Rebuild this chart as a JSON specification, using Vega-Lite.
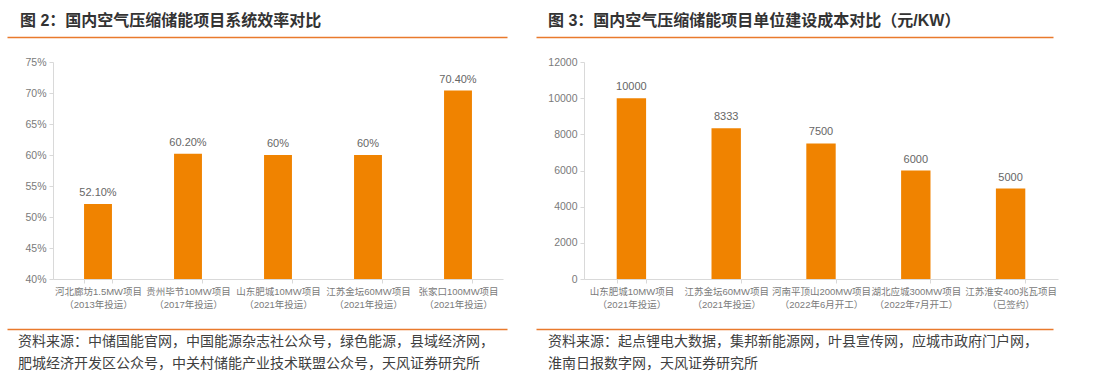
{
  "$schema": "https://vega.github.io/schema/vega-lite/v6.json",
  "padding": {"left": 7, "top": 12, "right": 10, "bottom": 5},
  "background": "white",
  "config": {
    "view": {"stroke": null},
    "font": "'Liberation Sans','Noto Sans CJK SC',sans-serif",
    "axis": {"labelFont": "'Liberation Sans','Noto Sans CJK SC',sans-serif"}
  },
  "datasets": {
    "eff": [
      {"name": "河北廊坊1.5MW项目|（2013年投运）", "value": 52.1, "label": "52.10%"},
      {"name": "贵州毕节10MW项目|（2017年投运）", "value": 60.2, "label": "60.20%"},
      {"name": "山东肥城10MW项目|（2021年投运）", "value": 60, "label": "60%"},
      {"name": "江苏金坛60MW项目|（2021年投运）", "value": 60, "label": "60%"},
      {"name": "张家口100MW项目|（2021年投运）", "value": 70.4, "label": "70.40%"}
    ],
    "cost": [
      {"name": "山东肥城10MW项目|（2021年投运）", "value": 10000},
      {"name": "江苏金坛60MW项目|（2021年投运）", "value": 8333},
      {"name": "河南平顶山200MW项目|（2022年6月开工）", "value": 7500},
      {"name": "湖北应城300MW项目|（2022年7月开工）", "value": 6000},
      {"name": "江苏淮安400兆瓦项目|（已签约）", "value": 5000}
    ],
    "blank": [{"p": 0}]
  },
  "columns": 2,
  "spacing": {"row": 25, "column": 29},
  "bounds": "flush",
  "concat": [
    {
      "width": 500, "height": 1,
      "data": {"name": "blank"},
      "mark": {"type": "text", "text": ""},
      "encoding": {
        "x": {"field": "p", "type": "quantitative", "scale": {"domain": [0, 1]}, "axis": {"title": null, "labels": false, "ticks": false, "grid": false, "domainColor": "#E97A2C", "domainWidth": 1.5, "orient": "bottom"}}
      },
      "title": {"text": "图 2：国内空气压缩储能项目系统效率对比", "anchor": "start", "dx": 13, "fontSize": 16, "fontWeight": "bold", "color": "#333333", "offset": -11, "baseline": "alphabetic"}
    },
    {
      "width": 517, "height": 1,
      "data": {"name": "blank"},
      "mark": {"type": "text", "text": ""},
      "encoding": {
        "x": {"field": "p", "type": "quantitative", "scale": {"domain": [0, 1]}, "axis": {"title": null, "labels": false, "ticks": false, "grid": false, "domainColor": "#E97A2C", "domainWidth": 1.5, "orient": "bottom"}}
      },
      "title": {"text": "图 3：国内空气压缩储能项目单位建设成本对比（元/KW）", "anchor": "start", "dx": 12, "fontSize": 16, "fontWeight": "bold", "color": "#333333", "offset": -11, "baseline": "alphabetic"}
    },
    {
      "width": 500, "height": 217,
      "data": {"name": "eff"},
      "encoding": {
        "x": {"field": "name", "type": "nominal", "sort": null, "title": null,
          "scale": {"range": [46, 496], "paddingInner": 0.69, "paddingOuter": 0.345},
          "axis": {"labelExpr": "split(datum.label, '|')", "labelAngle": 0, "labelFontSize": 9.5, "labelColor": "#7a7a7a", "labelLineHeight": 13, "labelPadding": 3, "tickBand": "extent", "tickSize": 4, "tickColor": "#d9d9d9", "domainColor": "#d9d9d9", "labelOverlap": false, "labelBound": false, "labelFlush": false}
        },
        "y": {"field": "value", "type": "quantitative", "title": null,
          "scale": {"domain": [40, 75], "zero": false},
          "axis": {"values": [40, 45, 50, 55, 60, 65, 70, 75], "labelExpr": "datum.value + '%'", "labelOverlap": false, "offset": -46, "grid": false, "labelFontSize": 10.5, "labelColor": "#7a7a7a", "tickSize": 4, "tickColor": "#d9d9d9", "domainColor": "#d9d9d9", "labelPadding": 3}
        }
      },
      "layer": [
        {
          "mark": {"type": "bar", "color": "#F08300"},
          "encoding": {"y2": {"datum": 40}}
        },
        {
          "mark": {"type": "text", "baseline": "bottom", "dy": -6, "fontSize": 11, "color": "#666666"},
          "encoding": {"text": {"field": "label"}}
        }
      ]
    },
    {
      "width": 517, "height": 217,
      "data": {"name": "cost"},
      "encoding": {
        "x": {"field": "name", "type": "nominal", "sort": null, "title": null,
          "scale": {"range": [48, 522], "paddingInner": 0.69, "paddingOuter": 0.345},
          "axis": {"labelExpr": "split(datum.label, '|')", "labelAngle": 0, "labelFontSize": 9.5, "labelColor": "#7a7a7a", "labelLineHeight": 13, "labelPadding": 3, "tickBand": "extent", "tickSize": 4, "tickColor": "#d9d9d9", "domainColor": "#d9d9d9", "labelOverlap": false, "labelBound": false, "labelFlush": false}
        },
        "y": {"field": "value", "type": "quantitative", "title": null,
          "scale": {"domain": [0, 12000]},
          "axis": {"values": [0, 2000, 4000, 6000, 8000, 10000, 12000], "format": "d", "labelOverlap": false, "offset": -48, "grid": false, "labelFontSize": 10.5, "labelColor": "#7a7a7a", "tickSize": 4, "tickColor": "#d9d9d9", "domainColor": "#d9d9d9", "labelPadding": 3}
        }
      },
      "layer": [
        {
          "mark": {"type": "bar", "color": "#F08300"}
        },
        {
          "mark": {"type": "text", "baseline": "bottom", "dy": -6, "fontSize": 11, "color": "#666666"},
          "encoding": {"text": {"field": "value", "type": "quantitative", "format": "d"}}
        }
      ]
    },
    {
      "width": 500, "height": 25,
      "data": {"name": "blank"},
      "mark": {"type": "text", "text": ""},
      "encoding": {
        "x": {"field": "p", "type": "quantitative", "scale": {"domain": [0, 1]}, "axis": {"title": null, "labels": false, "ticks": false, "grid": false, "domainColor": "#E97A2C", "domainWidth": 1.5, "orient": "bottom"}}
      },
      "title": {"text": ["资料来源：中储国能官网，中国能源杂志社公众号，绿色能源，县域经济网，", "肥城经济开发区公众号，中关村储能产业技术联盟公众号，天风证券研究所"], "orient": "bottom", "anchor": "start", "dx": 11, "fontSize": 14, "fontWeight": "normal", "color": "#404040", "lineHeight": 22, "offset": 6, "baseline": "top"}
    },
    {
      "width": 517, "height": 25,
      "data": {"name": "blank"},
      "mark": {"type": "text", "text": ""},
      "encoding": {
        "x": {"field": "p", "type": "quantitative", "scale": {"domain": [0, 1]}, "axis": {"title": null, "labels": false, "ticks": false, "grid": false, "domainColor": "#E97A2C", "domainWidth": 1.5, "orient": "bottom"}}
      },
      "title": {"text": ["资料来源：起点锂电大数据，集邦新能源网，叶县宣传网，应城市政府门户网，", "淮南日报数字网，天风证券研究所"], "orient": "bottom", "anchor": "start", "dx": 12, "fontSize": 14, "fontWeight": "normal", "color": "#404040", "lineHeight": 22, "offset": 6, "baseline": "top"}
    }
  ]
}
